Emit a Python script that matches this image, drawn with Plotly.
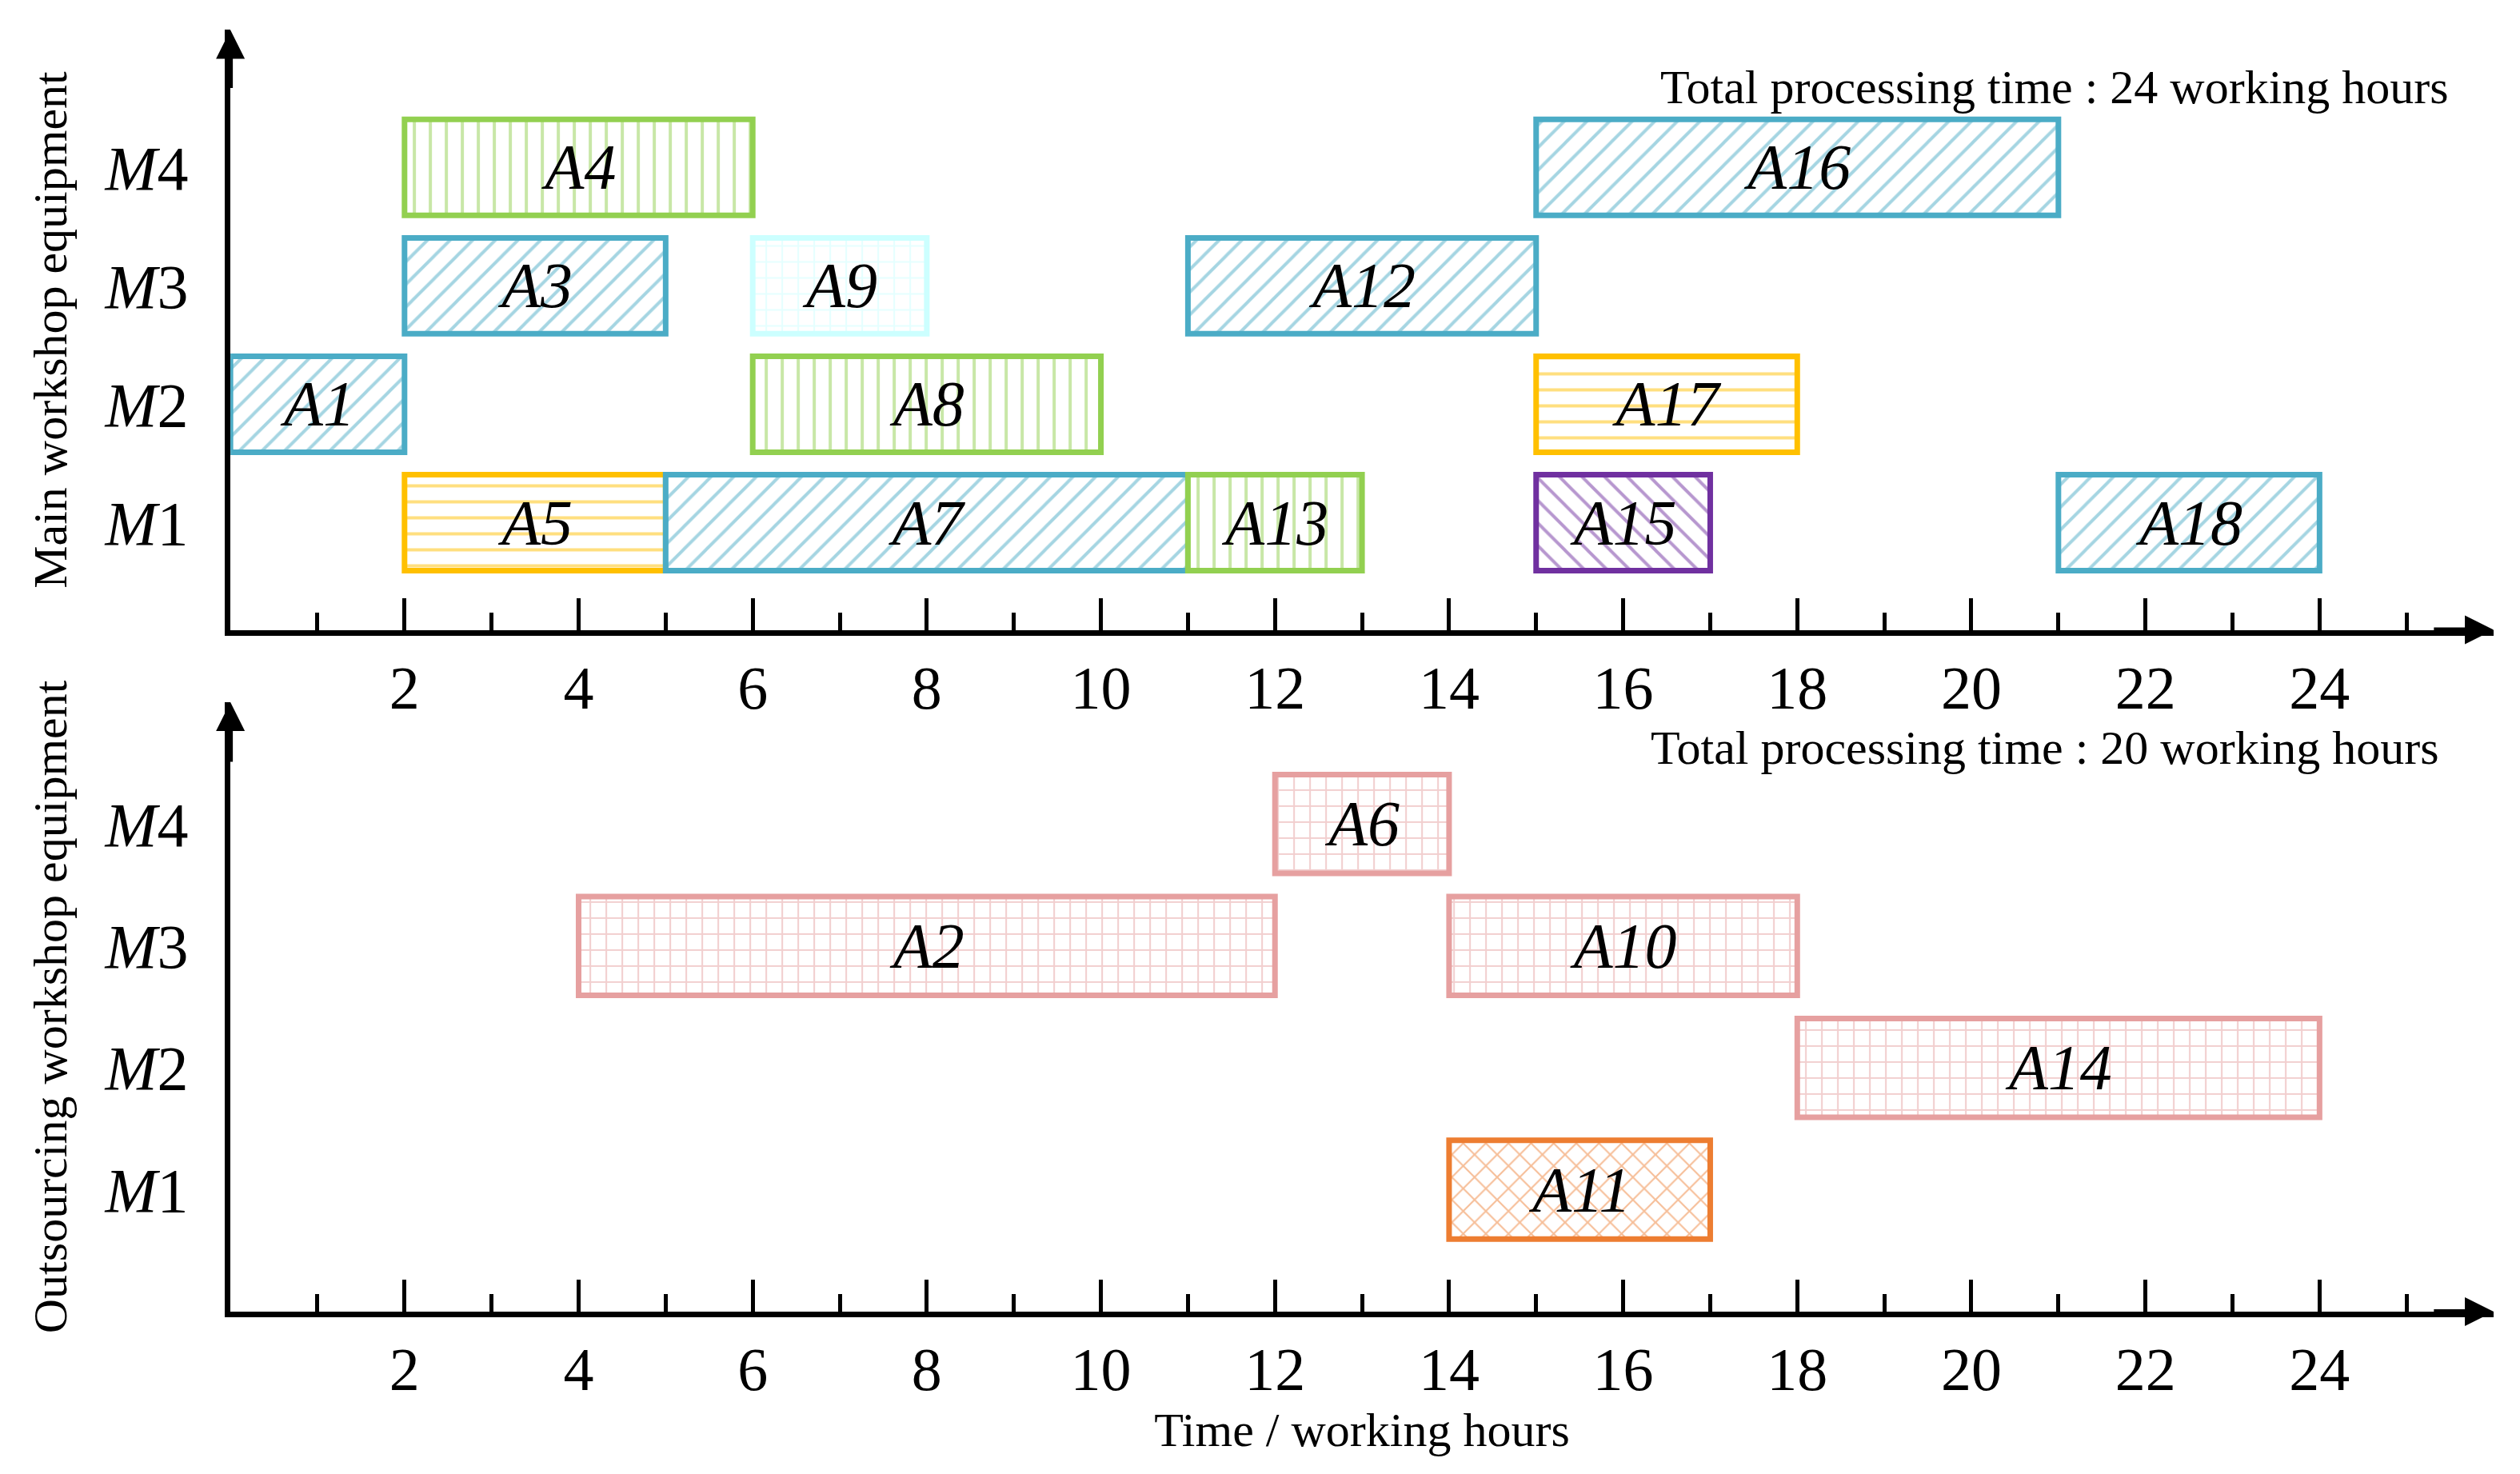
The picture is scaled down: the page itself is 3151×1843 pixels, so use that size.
import plotly.graph_objects as go

# data
top_tasks = ["A1","A3","A4","A9","A8","A5","A7","A13","A12","A16","A17","A15","A18"]
top_machine = [2,3,4,3,2,1,1,1,3,4,2,1,1]
top_start = [0,2,2,6,6,2,5,11,11,15,15,15,21]
top_end = [2,5,6,8,10,5,11,13,15,21,18,17,24]
top_kind = ["blue","blue","green","cyan","green","yellow","blue","green","blue","blue","yellow","purple","blue"]

bot_tasks = ["A6","A2","A10","A14","A11"]
bot_machine = [4,3,3,2,1]
bot_start = [12,4,14,18,14]
bot_end = [14,12,18,24,17]
bot_kind = ["pink","pink","pink","pink","orange"]

machine_labels = ["<i>M</i>1","<i>M</i>2","<i>M</i>3","<i>M</i>4"]
x_ticks = [2,4,6,8,10,12,14,16,18,20,22,24]

styles = {
    "blue": ("#4BACC6", "/"),
    "green": ("#92D050", "|"),
    "cyan": ("#CCFFFF", "+"),
    "yellow": ("#FFC000", "-"),
    "purple": ("#7030A0", "\\"),
    "pink": ("#E6A0A0", "+"),
    "orange": ("#ED7D31", "x"),
}
FONT = "Liberation Serif"

fig = go.Figure()

def add(tasks, mach, st, en, kind, xa, ya):
    for t, m, s, e, k in zip(tasks, mach, st, en, kind):
        c, shp = styles[k]
        fig.add_trace(go.Bar(
            y=[m], x=[e - s], base=[s], orientation="h", width=0.81,
            xaxis=xa, yaxis=ya, showlegend=False,
            marker=dict(color="white", line=dict(color=c, width=7),
                        pattern=dict(shape=shp, fgcolor=c, bgcolor="white", size=20, solidity=0.2)),
            text=[t], textposition="inside", insidetextanchor="middle", textangle=0,
            constraintext="none",
            textfont=dict(family=FONT, size=80, color="black", style="italic"),
        ))

add(top_tasks, top_machine, top_start, top_end, top_kind, "x", "y")
add(bot_tasks, bot_machine, bot_start, bot_end, bot_kind, "x2", "y2")

xcommon = dict(range=[0, 26.0], tickvals=x_ticks, ticks="inside", ticklen=40, tickwidth=5,
               tickcolor="black", showline=True, linecolor="black", linewidth=7,
               showgrid=False, zeroline=False,
               minor=dict(tickvals=[1,3,5,7,9,11,13,15,17,19,21,23,25], ticks="inside", ticklen=22, tickwidth=5, tickcolor="black"),
               tickfont=dict(family=FONT, size=76, color="black"))
ycommon = dict(tickvals=[1,2,3,4], ticktext=machine_labels, ticks="", showline=True,
               linecolor="black", linewidth=7, showgrid=False, zeroline=False,
               ticklabelstandoff=30, tickfont=dict(family=FONT, size=78, color="black"),
               title_font=dict(family=FONT, size=60, color="black"), title_standoff=30)

fig.update_layout(
    width=3151, height=1843, plot_bgcolor="white", paper_bgcolor="white",
    margin=dict(l=0, r=0, t=0, b=0), barmode="overlay",
    xaxis=dict(domain=[0.0889, 0.987], anchor="y", **xcommon),
    yaxis=dict(domain=[0.577, 0.984], range=[0.095, 5.16], anchor="x",
               title_text="Main workshop equipment", **ycommon),
    xaxis2=dict(domain=[0.0889, 0.987], anchor="y2",
                title=dict(text="Time / working hours", font=dict(family=FONT, size=60, color="black"), standoff=15),
                **xcommon),
    yaxis2=dict(domain=[0.1145, 0.528], range=[0.0, 5.0], anchor="x2",
                title_text="Outsourcing workshop equipment", **ycommon),
)

ann = [
    dict(x=0.97, y=0.945, xref="paper", yref="paper", xanchor="right", yanchor="middle",
         text="Total processing time : 24 working hours", showarrow=False,
         font=dict(family=FONT, size=60, color="black")),
    dict(x=0.966, y=0.497, xref="paper", yref="paper", xanchor="right", yanchor="middle",
         text="Total processing time : 20 working hours", showarrow=False,
         font=dict(family=FONT, size=60, color="black")),
]
for (xa, ya, y0, y1) in [("x", "y", 0.095, 5.16), ("x2", "y2", 0.0, 5.0)]:
    ann.append(dict(x=26.0, y=y0, ax=25.3, ay=y0, xref=xa, yref=ya, axref=xa, ayref=ya,
                    text="", showarrow=True, arrowhead=2, arrowsize=1.2, arrowwidth=6, arrowcolor="black"))
    ann.append(dict(x=0, y=y1, ax=0, ay=y1 - 0.5, xref=xa, yref=ya, axref=xa, ayref=ya,
                    text="", showarrow=True, arrowhead=2, arrowsize=1.2, arrowwidth=6, arrowcolor="black"))
fig.update_layout(annotations=ann)

fig.write_html("out.html")
